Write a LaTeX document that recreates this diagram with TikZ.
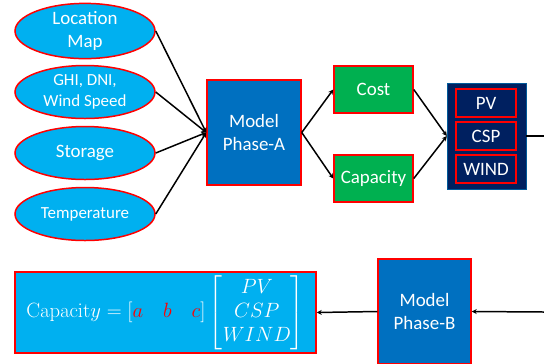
\documentclass[tikz,border=0pt]{standalone}
\usepackage[no-math]{fontspec}
\setmainfont{Carlito}
\usepackage{amsmath}
\usetikzlibrary{shapes.geometric,arrows.meta}

\tikzset{
  input/.style={ellipse,draw=red,line width=1.5pt,fill=sky,text=white,
    minimum width=140bp,minimum height=53bp,inner sep=0pt,align=center,
    font=\fontsize{19}{23}\selectfont},
  model/.style={rectangle,draw=red,line width=1.5pt,fill=mblue,text=white,
    minimum width=94bp,minimum height=105bp,align=center,
    font=\fontsize{19}{23}\selectfont},
  result/.style={rectangle,draw=red,line width=1.5pt,fill=grn,text=white,
    minimum width=79bp,minimum height=47bp,font=\fontsize{19}{22}\selectfont},
  tech/.style={rectangle,draw=red,line width=1.2pt,text=white,
    minimum width=60bp,minimum height=28bp,inner sep=0pt,
    font=\fontsize{19}{22}\selectfont},
  link/.style={line width=1.5pt,-{Stealth[length=5pt,width=5pt]}}
}

\begin{document}
\begin{tikzpicture}[x=1bp,y=-1bp]

  \definecolor{sky}{RGB}{0,176,240}   % light blue
  \definecolor{mblue}{RGB}{0,112,192} % model blue
  \definecolor{grn}{RGB}{0,176,80}    % green
  \definecolor{navy}{RGB}{0,32,96}    % dark blue

  \useasboundingbox (0,0) rectangle (544,363);

  % Input data
  \node[input] (loc)  at (85,31)  {Location\\Map};
  \node[input,font=\fontsize{17}{21}\selectfont] (irr) at (85,92)
    {GHI, DNI,\\Wind Speed};
  \node[input] (stor) at (85,153) {Storage};
  \node[input,font=\fontsize{17}{21}\selectfont] (temp) at (85,214)
    {Temperature};

  % First model
  \node[model] (phaseA) at (254,132.5) {Model\\Phase-A};

  % Outputs of the first model
  \node[result] (cost) at (373.5,89.5)  {Cost};
  \node[result] (cap)  at (373.5,178.5) {Capacity};

  % Technologies
  \node[rectangle,fill=navy,draw=sky!40!navy,minimum width=79bp,
        minimum height=106bp] (techs) at (486.5,136) {};
  \node[tech] (pv)   at (486,103) {PV};
  \node[tech] (csp)  at (486,136) {CSP};
  \node[tech] (wind) at (486,169) {WIND};

  % Second model and final result
  \node[model,minimum width=93bp] (phaseB) at (424.5,311.5) {Model\\Phase-B};
  \node[rectangle,draw=red,line width=1.5pt,fill=sky,text=white,
        minimum width=301bp,minimum height=81bp,
        font=\fontsize{20}{24}\selectfont] (capeq) at (165.5,312.5)
    {$\mathrm{Capacit}y=\left[\textcolor{red}{a}\quad\textcolor{red}{b}\quad
      \textcolor{red}{c}\right]\begin{bmatrix}PV\\CSP\\WIND\end{bmatrix}$};

  % Free ends on the right
  \coordinate (outA) at (544,136);
  \coordinate (inB)  at (544,312);

  % Draw connectors
  \foreach \n in {loc,irr,stor,temp}
    \draw[link] (\n.east) -- (phaseA.west);
  \draw[link] (phaseA.east) -- (cost.west);
  \draw[link] (phaseA.east) -- (cap.west);
  \draw[link] (cost.east) -- (techs.west);
  \draw[link] (cap.east) -- (techs.west);
  \draw[line width=1.5pt] (techs.east) -- (outA);
  \draw[link] (inB) -- (phaseB.east);
  \draw[link] (phaseB.west) -- (capeq.east);

\end{tikzpicture}
\end{document}
